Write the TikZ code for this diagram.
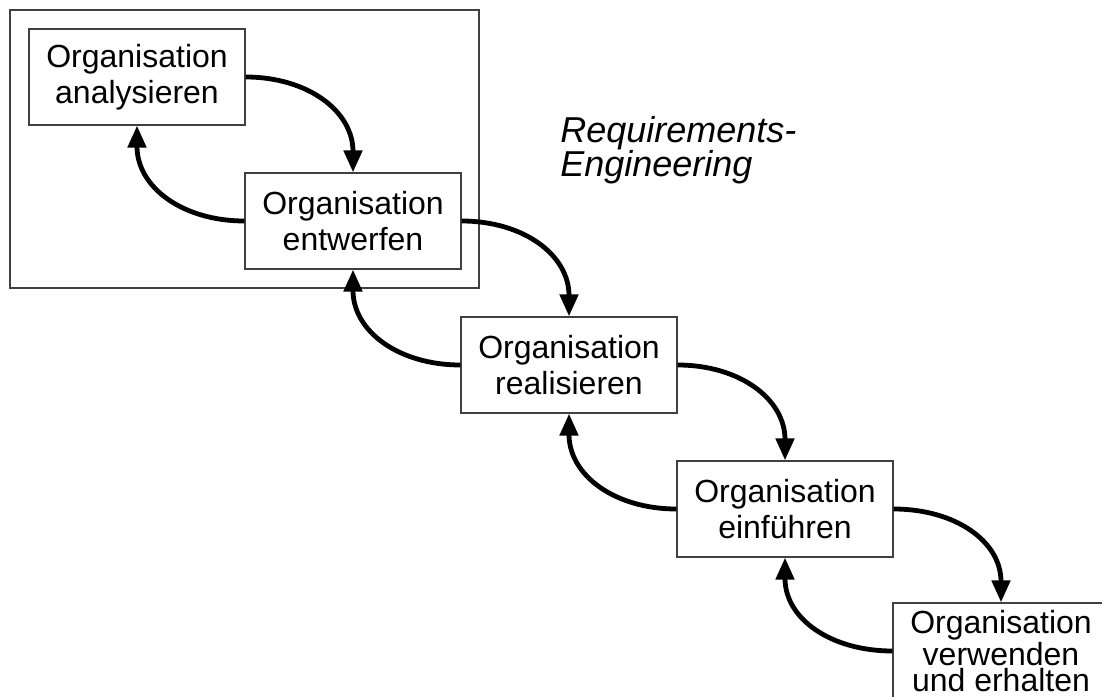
\documentclass[tikz,border=0pt]{standalone}
\usepackage{fontspec}
\setmainfont{Liberation Sans}
\usetikzlibrary{arrows.meta}
\tikzset{
  phase/.style={draw=black!75, line width=0.6pt, fill=white, minimum width=108pt,
    minimum height=48pt, inner sep=2pt, align=center, font=\fontsize{16}{18}\selectfont},
  flow/.style={line width=2.4pt, looseness=1.1, -{Triangle[length=11pt,width=9pt]}}
}
\begin{document}
\begin{tikzpicture}[x=0.5pt,y=0.5pt]
  \useasboundingbox (0,0) rectangle (1102,696);
  % frame round the first two phases
  \draw[black!75, line width=0.6pt] (10,686) rectangle (479,408);
  \node[font=\fontsize{18}{17}\selectfont\itshape, align=left, anchor=north west,
    inner sep=0pt] (re) at (560,580) {Requirements-\\Engineering};
  \foreach \i/\txt in {1/analysieren,2/entwerfen,3/realisieren,4/einführen} {
    \node[phase] (org\i) at ({137+216*(\i-1)},{619-144*(\i-1)}) {Organisation\\\txt};
  }
  \node[phase, font=\fontsize{16}{13}\selectfont] (org5) at (1001,45)
    {Organisation\\verwenden\\und erhalten};
  \foreach \a/\b in {1/2,2/3,3/4,4/5} {
    \draw[flow] (org\a.east) to[out=0,in=90] (org\b.north);
    \draw[flow] (org\b.west) to[out=180,in=-90] (org\a.south);
  }
\end{tikzpicture}
\end{document}
